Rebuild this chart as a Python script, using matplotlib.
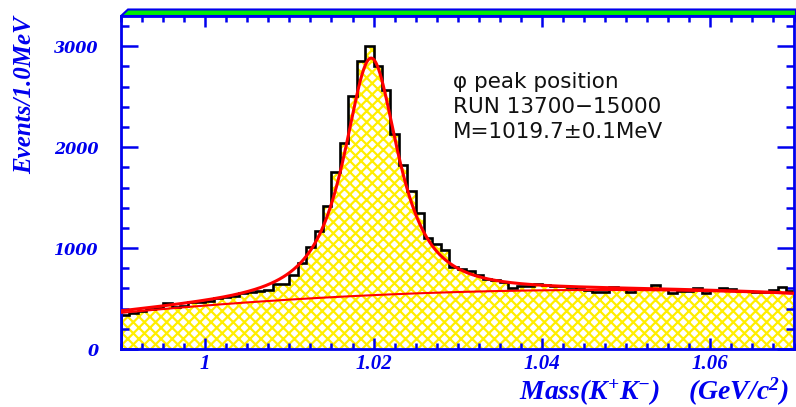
import numpy as np
import matplotlib
matplotlib.use('Agg')
import matplotlib.pyplot as plt
from matplotlib.patches import Polygon
from matplotlib.ticker import MultipleLocator, FuncFormatter

# K+K- invariant mass, 1 MeV bins from 0.990 to 1.070 GeV
bin_edges_lo = 0.990
bin_width = 0.001
counts = [
    340, 352, 372, 398, 402, 455, 420, 422, 468, 470,
    478, 508, 515, 530, 556, 560, 578, 580, 640, 648,
    735, 850, 1015, 1168, 1418, 1756, 2045, 2508, 2855, 3003,
    2802, 2571, 2135, 1822, 1568, 1343, 1100, 1042, 980, 815,
    790, 772, 738, 695, 685, 665, 600, 624, 626, 644,
    630, 620, 625, 612, 595, 582, 560, 562, 611, 608,
    568, 590, 592, 634, 590, 552, 575, 576, 605, 558,
    585, 605, 594, 575, 570, 566, 565, 585, 612, 572,
]

# fit result: peak (generalised Breit-Wigner) + quadratic background
phi_mass = 1.0197      # GeV
phi_scale = 0.00447    # GeV
phi_power = 1.25
phi_height = 2350.0
bg_center = 1.030
bg_coef = [564.7, 23.75, -6.98]   # per 10 MeV

xtick_vals = [1.00, 1.02, 1.04, 1.06]
ytick_vals = [0, 1000, 2000, 3000]

info_lines = ['\u03c6 peak position', 'RUN 13700\u221215000', 'M=1019.7\u00b10.1MeV']

BLUE = '#0000ee'
W, H = 796, 407

plt.rcParams['hatch.color'] = '#ffee00'
plt.rcParams['hatch.linewidth'] = 1.6
plt.rcParams['mathtext.fontset'] = 'custom'
plt.rcParams['mathtext.bfit'] = 'Liberation Serif:italic:bold'
plt.rcParams['mathtext.rm'] = 'Liberation Serif:bold'
plt.rcParams['mathtext.it'] = 'Liberation Serif:italic:bold'


def background(m):
    t = (m - bg_center) / 0.01
    return bg_coef[0] + bg_coef[1] * t + bg_coef[2] * t ** 2


def signal(m):
    return phi_height * (1.0 + ((m - phi_mass) / phi_scale) ** 2) ** (-phi_power)


fig = plt.figure(figsize=(W / 100.0, H / 100.0), dpi=100)
ax = fig.add_axes([121.0 / W, (H - 349.0) / H, (794.5 - 121.0) / W, (349.0 - 16.0) / H])

edges = bin_edges_lo + bin_width * np.arange(len(counts) + 1)
ax.stairs(counts, edges, fill=True, facecolor='white', edgecolor='#ffee00',
          hatch='xxx', linewidth=0, zorder=1)
ax.stairs(counts, edges, color='black', linewidth=1.9, zorder=2)

m = np.linspace(edges[0], edges[-1], 800)
ax.plot(m, background(m), color='red', linewidth=1.5, zorder=3)
ax.plot(m, background(m) + signal(m), color='red', linewidth=2.2, zorder=4)

ax.set_xlim(edges[0], edges[-1])
ax.set_ylim(0, 3300)

for s in ax.spines.values():
    s.set_color(BLUE)
    s.set_linewidth(2.0)

ax.xaxis.set_major_locator(matplotlib.ticker.FixedLocator(xtick_vals))
ax.xaxis.set_minor_locator(MultipleLocator(0.0025))
ax.yaxis.set_major_locator(matplotlib.ticker.FixedLocator(ytick_vals))
ax.yaxis.set_minor_locator(MultipleLocator(200))
ax.xaxis.set_major_formatter(FuncFormatter(lambda v, p: ('%.2f' % v).rstrip('0').rstrip('.')))
ax.yaxis.set_major_formatter(FuncFormatter(lambda v, p: '%d' % v))

ax.tick_params(axis='both', which='both', direction='in', color=BLUE, width=1.8,
               top=True, right=True, labelcolor=BLUE)
ax.tick_params(axis='y', which='major', length=12, pad=16)
ax.tick_params(axis='y', which='minor', length=6)
ax.tick_params(axis='x', which='major', length=8, pad=3.5)
ax.tick_params(axis='x', which='minor', length=4.5)

for lab in ax.get_xticklabels():
    lab.set_fontfamily('Liberation Serif')
    lab.set_fontweight('bold')
    lab.set_fontstyle('italic')
    lab.set_fontsize(15)
for lab in ax.get_yticklabels():
    lab.set_fontfamily('DejaVu Serif')
    lab.set_fontweight('bold')
    lab.set_fontstyle('italic')
    lab.set_fontsize(11.5)

# statistics box text
for i, line in enumerate(info_lines):
    fig.text(453.0 / W, 1 - (88.0 + 25.0 * i) / H, line, fontsize=15.5,
             family='DejaVu Sans', color='#111111', ha='left', va='baseline')

fig.text(25.0 / W, 1 - 95.0 / H, 'Events/1.0MeV', rotation=90, fontsize=18,
         family='Liberation Serif', weight='bold', style='italic', color=BLUE,
         ha='center', va='center')
fig.text(789.0 / W, 1 - 399.5 / H,
         r'$\mathbfit{Mass(K^{+}K^{-})\ \ \ \ (GeV/c^{2})}$',
         fontsize=20, color=BLUE, ha='right', va='baseline')

# green frame band above the plot
band = Polygon([(121.0 / W, 1 - 16.0 / H), (128.0 / W, 1 - 9.5 / H),
                (1.0, 1 - 9.5 / H), (1.0, 1 - 16.0 / H)],
               closed=True, facecolor='#00ee00', edgecolor=BLUE, linewidth=1.5,
               transform=fig.transFigure)
fig.add_artist(band)

fig.savefig('out.png', dpi=100)
